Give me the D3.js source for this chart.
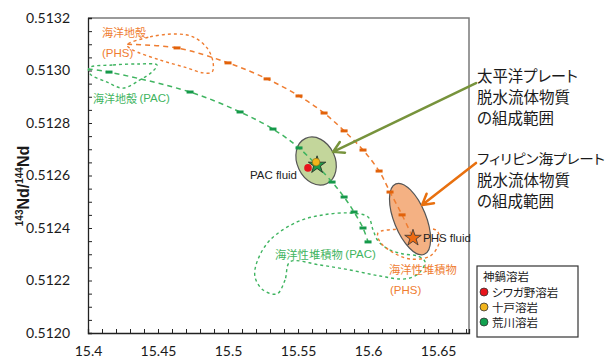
<!DOCTYPE html>
<html>
<head>
<meta charset="utf-8">
<script src="https://cdn.jsdelivr.net/npm/d3@7"></script>
<style>
  body { margin: 0; background: #fff; }
  svg { display: block; }
  .tick text { font-family: Lato, "Open Sans", sans-serif; font-size: 14px; fill: #1a1a1a; }
  .jp { font-family: "Noto Sans CJK JP", sans-serif; font-feature-settings: "palt" 1; }
</style>
</head>
<body>
<div id="chart"></div>
<script>
// --- data (Pb-206/204 vs 143Nd/144Nd) ---
const xTicks = [15.4, 15.45, 15.5, 15.55, 15.6, 15.65];
const yTicks = [0.5120, 0.5122, 0.5124, 0.5126, 0.5128, 0.5130, 0.5132];

// mixing curve toward PHS fluid (orange), first point is line start only
const phsCurve = [
  [15.428, 0.51310], [15.4636, 0.513086], [15.5, 0.513029], [15.5279, 0.512968],
  [15.5507, 0.512903], [15.5686, 0.512838], [15.5829, 0.512770], [15.5964, 0.512697],
  [15.6079, 0.512617], [15.6157, 0.512537], [15.6243, 0.512450], [15.6321, 0.512362]
];
// mixing curve toward PAC fluid (green)
const pacCurve = [
  [15.4, 0.513006], [15.415, 0.512994], [15.4729, 0.512918], [15.5086, 0.512842],
  [15.5321, 0.512777], [15.5507, 0.512705], [15.5743, 0.512575], [15.5829, 0.512518],
  [15.59, 0.512461], [15.5964, 0.512400], [15.6, 0.512347]
];

// field outlines
const crustPHS = [
  [15.4279, 0.513097], [15.4443, 0.513128], [15.4636, 0.513139], [15.475, 0.513128],
  [15.485, 0.513086], [15.4893, 0.513032], [15.4886, 0.512994], [15.4821, 0.512991],
  [15.4707, 0.513010], [15.4514, 0.513040], [15.4321, 0.513078]
];
const crustPAC = [
  [15.4007, 0.513010], [15.4179, 0.513021], [15.4371, 0.513025], [15.4493, 0.513021],
  [15.4457, 0.512994], [15.4371, 0.512964], [15.425, 0.512933], [15.4136, 0.512956],
  [15.4014, 0.512987]
];
const sedPAC = [
  [15.5443, 0.512271], [15.5407, 0.512202], [15.535, 0.512149], [15.525, 0.512164],
  [15.5193, 0.512213], [15.5207, 0.512271], [15.53, 0.512354], [15.5493, 0.512423],
  [15.5679, 0.512450], [15.5871, 0.512457], [15.6, 0.512442], [15.6036, 0.512392],
  [15.6071, 0.512351], [15.6143, 0.512320], [15.625, 0.512301], [15.6357, 0.512293],
  [15.6407, 0.512271], [15.6357, 0.512225], [15.6264, 0.512206], [15.6086, 0.512217],
  [15.5871, 0.512240], [15.5657, 0.512259]
];
const sedPHS = [
  [15.6071, 0.512381], [15.6207, 0.512396], [15.6371, 0.512400], [15.6493, 0.512389],
  [15.6507, 0.512343], [15.6443, 0.512293], [15.63, 0.512282], [15.6171, 0.512309],
  [15.6086, 0.512347]
];

// fluid composition ranges (centres)
const pacFluid = [15.5629, 0.512655];
const phsFluid = [15.63, 0.512434];
const pacStar = [15.5636, 0.512640];
const phsStar = [15.6321, 0.512362];

// Kannabe lavas
const lavaNames = ["シワガ野溶岩", "十戸溶岩", "荒川溶岩"];
const lavaColors = ["#e8141b", "#f2b51c", "#12a150"];
const lavaPoints = [[15.5571, 0.512629], [15.5629, 0.512651]]; // red, yellow

const W = 610, H = 363;
const margin = {top: 18, right: 141, bottom: 30, left: 88};

const svg = d3.select("#chart").append("svg")
  .attr("width", W).attr("height", H);

const x = d3.scaleLinear().domain([15.4, 15.6721]).range([margin.left, W - margin.right]);
const y = d3.scaleLinear().domain([0.5120, 0.5132]).range([H - margin.bottom, margin.top]);

const orange = "#ef7d31", orangeDark = "#e2620a";
const green = "#3fb460", greenDark = "#15994a";

// frame (top/right)
svg.append("path")
  .attr("d", `M${x(15.4)},${y(0.5132)}H${x.range()[1]}V${y(0.512)}`)
  .attr("fill", "none").attr("stroke", "#7a7a7a").attr("stroke-width", 1.5);

// axes
const xMinor = d3.range(0, 28).map(i => +(15.4 + i * 0.01).toFixed(2));
const yMinor = d3.range(0, 25).map(i => +(0.512 + i * 0.00005).toFixed(5));

svg.append("g")
  .attr("transform", `translate(0,${y(0.512)})`)
  .call(d3.axisBottom(x).tickValues(xMinor).tickSize(-4).tickPadding(13)
    .tickFormat(d => xTicks.some(t => Math.abs(t - d) < 1e-6) ? d3.format("")(d) : ""))
  .call(g => g.select(".domain").attr("stroke", "#222").attr("stroke-width", 1.3))
  .call(g => g.selectAll(".tick line").attr("stroke", "#222"));

svg.append("g")
  .attr("transform", `translate(${x(15.4)},0)`)
  .call(d3.axisLeft(y).tickValues(yMinor).tickSize(-4).tickPadding(18)
    .tickFormat(d => yTicks.some(t => Math.abs(t - d) < 1e-7) ? d3.format(".4f")(d) : ""))
  .call(g => g.select(".domain").attr("stroke", "#222").attr("stroke-width", 1.3))
  .call(g => g.selectAll(".tick line").attr("stroke", "#222"));

// y axis title 143Nd/144Nd
const yt = svg.append("text")
  .attr("transform", `translate(29,${y(0.51256)}) rotate(-90)`)
  .attr("text-anchor", "middle")
  .attr("font-family", "Liberation Sans, Arial, sans-serif")
  .attr("font-size", 16).attr("font-weight", "bold").attr("fill", "#1a1a1a");
yt.append("tspan").attr("font-size", 10).attr("dy", -6).text("143");
yt.append("tspan").attr("dy", 6).text("Nd/");
yt.append("tspan").attr("font-size", 10).attr("dy", -6).text("144");
yt.append("tspan").attr("dy", 6).text("Nd");

const line = d3.line().x(d => x(d[0])).y(d => y(d[1])).curve(d3.curveCatmullRom);
const loop = d3.line().x(d => x(d[0])).y(d => y(d[1])).curve(d3.curveCatmullRomClosed);

// field outlines
[[crustPHS, orange], [crustPAC, green], [sedPAC, green], [sedPHS, orange]].forEach(([pts, c]) => {
  svg.append("path").attr("d", loop(pts))
    .attr("fill", "none").attr("stroke", c).attr("stroke-width", 1.4)
    .attr("stroke-dasharray", "3,3");
});

// fluid ellipses
svg.append("ellipse")
  .attr("transform", `translate(${x(pacFluid[0])},${y(pacFluid[1])}) rotate(-25)`)
  .attr("rx", 19).attr("ry", 25)
  .attr("fill", "#c3d69b").attr("stroke", "#555").attr("stroke-width", 1.2);
svg.append("ellipse")
  .attr("transform", `translate(${x(phsFluid[0])},${y(phsFluid[1])}) rotate(-22)`)
  .attr("rx", 16).attr("ry", 38)
  .attr("fill", "#f4b183").attr("stroke", "#555").attr("stroke-width", 1.2);

// mixing curves
[[phsCurve, orange, orangeDark], [pacCurve, green, greenDark]].forEach(([pts, c, cd], k) => {
  svg.append("path").attr("d", line(pts))
    .attr("fill", "none").attr("stroke", c).attr("stroke-width", 1.5)
    .attr("stroke-dasharray", "5,4");
  svg.append("g").selectAll("rect")
    .data(k === 0 ? pts.slice(1, -1) : pts.slice(1))
    .join("rect")
      .attr("x", d => x(d[0]) - 3.5).attr("y", d => y(d[1]) - 1.5)
      .attr("width", 7).attr("height", 3)
      .attr("fill", cd);
});

// stars and lava points
const star = d3.symbol().type(d3.symbolStar);
svg.append("path").attr("d", star.size(95)())
  .attr("transform", `translate(${x(pacStar[0])},${y(pacStar[1])})`)
  .attr("fill", "#1f9a48").attr("stroke", "#222").attr("stroke-width", 0.8);
svg.append("path").attr("d", star.size(85)())
  .attr("transform", `translate(${x(phsStar[0])},${y(phsStar[1])})`)
  .attr("fill", "#ee6b12").attr("stroke", "#333").attr("stroke-width", 0.8);

svg.append("g").selectAll("circle")
  .data(lavaPoints.map((p, i) => ({p, c: lavaColors[i]})).reverse())
  .join("circle")
    .attr("cx", d => x(d.p[0])).attr("cy", d => y(d.p[1]))
    .attr("r", 3.8).attr("fill", d => d.c)
    .attr("stroke", d => d.c === lavaColors[0] ? "none" : "#8a6a10").attr("stroke-width", 0.6);

// labels inside the plot
function label(t, px, py, c, anchor, size) {
  return svg.append("text").attr("x", px).attr("y", py)
    .attr("text-anchor", anchor || "start")
    .attr("dominant-baseline", "central")
    .attr("class", "jp")
    .attr("font-size", size || 11.5)
    .attr("fill", c).text(t);
}
const sans = "Liberation Sans, Arial, sans-serif";
label("海洋地殻", 102, 32, orange, "start", 11);
svg.append("text").attr("x", 102).attr("y", 53).attr("dominant-baseline", "central")
  .attr("font-family", sans).attr("font-size", 11.5).attr("fill", orange).text("(PHS)");
const pacCrustLbl = svg.append("text").attr("x", 93).attr("y", 98).attr("dominant-baseline", "central")
  .attr("fill", green).attr("font-size", 11.5);
pacCrustLbl.append("tspan").attr("class", "jp").attr("font-size", 11).text("海洋地殻 ");
pacCrustLbl.append("tspan").attr("font-family", sans).text("(PAC)");

const pacSedLbl = svg.append("text").attr("x", 275).attr("y", 254).attr("dominant-baseline", "central")
  .attr("fill", green).attr("font-size", 11.5);
pacSedLbl.append("tspan").attr("class", "jp").attr("font-size", 11.3).text("海洋性堆積物 ");
pacSedLbl.append("tspan").attr("font-family", sans).text("(PAC)");

label("海洋性堆積物", 389, 269, orange, "start", 11.3);
svg.append("text").attr("x", 390).attr("y", 290).attr("dominant-baseline", "central")
  .attr("font-family", sans).attr("font-size", 11.5).attr("fill", orange).text("(PHS)");

svg.append("text").attr("x", 297).attr("y", 175).attr("dominant-baseline", "central")
  .attr("text-anchor", "end").attr("font-family", sans).attr("font-size", 11.5)
  .attr("fill", "#222").text("PAC fluid");
svg.append("text").attr("x", 423).attr("y", 238).attr("dominant-baseline", "central")
  .attr("font-family", sans).attr("font-size", 11.5)
  .attr("fill", "#222").text("PHS fluid");

// arrows with open heads
const arrows = [
  {from: [15.6771, 0.512952], to: [15.575, 0.51269], c: "#77933c"},
  {from: [15.6771, 0.512648], to: [15.6386, 0.512488], c: "#e8700f"}
];
arrows.forEach(a => {
  const x0 = x(a.from[0]), y0 = y(a.from[1]), x1 = x(a.to[0]), y1 = y(a.to[1]);
  const ang = Math.atan2(y1 - y0, x1 - x0);
  const L = 12, spread = Math.PI / 6;
  const h1 = [x1 - L * Math.cos(ang - spread), y1 - L * Math.sin(ang - spread)];
  const h2 = [x1 - L * Math.cos(ang + spread), y1 - L * Math.sin(ang + spread)];
  svg.append("path")
    .attr("d", `M${x0},${y0}L${x1},${y1}M${h1[0]},${h1[1]}L${x1},${y1}L${h2[0]},${h2[1]}`)
    .attr("fill", "none").attr("stroke", a.c).attr("stroke-width", 2.5)
    .attr("stroke-linecap", "round").attr("stroke-linejoin", "round");
});

// annotation text on the right
const notes = [
  {lines: ["太平洋プレート", "脱水流体物質", "の組成範囲"], y0: 75, w0: 101, s0: 15.5},
  {lines: ["フィリピン海プレート", "脱水流体物質", "の組成範囲"], y0: 158, w0: 128, s0: 13.5}
];
notes.forEach(n => {
  n.lines.forEach((t, i) => {
    const tx = label(t, 477, n.y0 + i * 21, "#1a1a1a", "start", i === 0 ? n.s0 : 15.5);
    if (i === 0) tx.attr("textLength", n.w0).attr("lengthAdjust", "spacingAndGlyphs");
  });
});

// legend
const lg = svg.append("g").attr("transform", "translate(477,266)");
lg.append("rect").attr("width", 101).attr("height", 71)
  .attr("fill", "#fff").attr("stroke", "#333").attr("stroke-width", 1.2);
lg.append("text").attr("class", "jp").attr("x", 6).attr("y", 10)
  .attr("dominant-baseline", "central").attr("font-size", 11.5).attr("fill", "#1a1a1a").text("神鍋溶岩");
lavaNames.forEach((nm, i) => {
  const cy = 26 + i * 15;
  lg.append("circle").attr("cx", 7).attr("cy", cy).attr("r", 4)
    .attr("fill", lavaColors[i]).attr("stroke", "#333").attr("stroke-width", 0.8);
  lg.append("text").attr("class", "jp").attr("x", 15).attr("y", cy)
    .attr("dominant-baseline", "central").attr("font-size", 11.5).attr("fill", "#1a1a1a").text(nm);
});
</script>
</body>
</html>
